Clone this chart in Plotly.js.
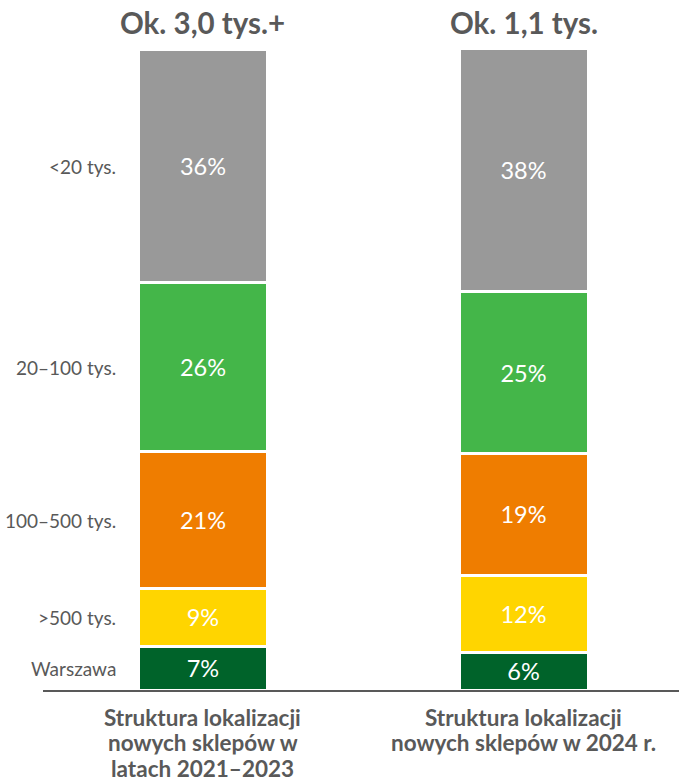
<!DOCTYPE html>
<html>
<head>
<meta charset="utf-8">
<script src="https://cdn.plot.ly/plotly-3.0.1.min.js"></script>
<style>html,body{margin:0;padding:0;background:#fff;}#chart{width:679px;height:782px;}</style>
</head>
<body>
<div id="chart"></div>
<script>
// Data (bottom to top of each stack)
const categories = ['Warszawa', '>500 tys.', '100–500 tys.', '20–100 tys.', '<20 tys.'];
const period1 = [6.8, 9.0, 21.3, 26.3, 36.4];   // 2021–2023, %
const period2 = [5.8, 12.1, 19.0, 25.1, 38.0];  // 2024, %
const xLabels = ['Struktura lokalizacji<br>nowych sklepów w<br>latach 2021–2023',
                 'Struktura lokalizacji<br>nowych sklepów w 2024 r.'];
const headers = ['Ok. 3,0 tys.+', 'Ok. 1,1 tys.'];
const colors = ['#00632A', '#FFD500', '#EF7D00', '#44B649', '#999999'];

const FONT = 'Lato, "Open Sans", sans-serif';
const GREY = '#595959';

const traces = categories.map((c, i) => ({
  type: 'bar',
  name: c,
  x: [0, 1],
  y: [period1[i], period2[i]],
  width: 0.4025,
  marker: {color: colors[i], line: {color: '#ffffff', width: 3}},
  texttemplate: '%{y:.0f}%',
  textposition: 'inside',
  insidetextanchor: 'middle',
  textfont: {family: FONT, size: 23.5, color: '#ffffff'},
  hoverinfo: 'skip'
}));

const annotations = [];
headers.forEach((h, i) => {
  annotations.push({
    x: i, xref: 'x', y: 1, yref: 'paper', yanchor: 'bottom', yshift: 6,
    text: '<b>' + h + '</b>', showarrow: false,
    font: {family: FONT, size: 29.5, color: GREY}
  });
});
// category labels under the axis, one annotation per line for tight spacing
xLabels.forEach((lbl, i) => {
  lbl.split('<br>').forEach((line, k) => {
    annotations.push({
      x: i, xref: 'x', y: 0, yref: 'paper', yanchor: 'middle',
      yshift: -27 - k * 25.5, borderpad: 0, height: 24.5, valign: 'middle',
      text: '<b>' + line + '</b>', showarrow: false,
      font: {family: FONT, size: 22.5, color: GREY}
    });
  });
});
let cum = 0;
categories.forEach((c, i) => {
  const mid = cum + period1[i] / 2;
  cum += period1[i];
  annotations.push({
    x: 0.118, xref: 'paper', xanchor: 'right', y: mid, yref: 'y',
    text: c, showarrow: false,
    font: {family: FONT, size: 19, color: GREY}
  });
});

const layout = {
  width: 679, height: 782,
  margin: {l: 43, r: 0, t: 48, b: 92},
  paper_bgcolor: '#ffffff', plot_bgcolor: '#ffffff',
  barmode: 'stack',
  showlegend: false,
  xaxis: {
    range: [-0.499, 1.485], tickvals: [0, 1], showticklabels: false,
    showline: true, linecolor: GREY, linewidth: 2,
    showgrid: false, zeroline: false, ticks: '', fixedrange: true
  },
  yaxis: {range: [0, 100], visible: false, fixedrange: true},
  annotations: annotations
};

Plotly.newPlot('chart', traces, layout, {displayModeBar: false, staticPlot: true});
</script>
</body>
</html>
